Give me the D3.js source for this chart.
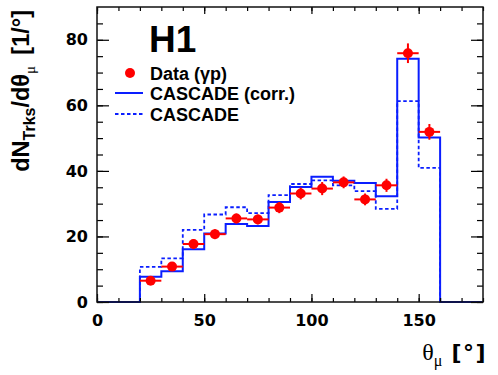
<!DOCTYPE html>
<html>
<head>
<meta charset="utf-8">
<script src="https://cdn.jsdelivr.net/npm/d3@7"></script>
<style>
    body { margin: 0; background: #fff; }
    svg { display: block; }
</style>
</head>
<body>
<svg id="chart" width="498" height="375"></svg>
<script>
// Bin lower edges (degrees), each bin is 10 wide
const binEdges = [20, 30, 40, 50, 60, 70, 80, 90, 100, 110, 120, 130, 140, 150];
const binWidth = 10;

// Data (gamma p) points with stat. errors
const dataValues = [6.5, 10.8, 17.7, 20.7, 25.5, 25.2, 28.8, 33.1, 34.6, 36.5, 31.3, 35.6, 75.9, 51.9];
const dataErrors = [1.2, 1.2, 1.5, 1.5, 1.5, 1.5, 1.7, 1.8, 2.0, 1.8, 1.8, 2.0, 3.0, 2.4];

// CASCADE predictions
const cascadeCorr = [7.7, 9.4, 16.1, 20.9, 23.8, 23.2, 30.5, 35.1, 38.2, 37.0, 36.3, 32.3, 74.2, 50.2];
const cascade = [10.7, 13.3, 22.0, 26.7, 28.9, 27.1, 32.6, 36.0, 37.1, 35.6, 33.8, 28.4, 61.3, 40.9];

// Axis ticks
const xMajorTicks = [0, 50, 100, 150];
const xMinorTicks = d3.range(0, 181, 10);
const yMajorTicks = [0, 20, 40, 60, 80];
const yMinorTicks = d3.range(0, 90, 5);

const legendLabels = ['Data (\u03b3p)', 'CASCADE (corr.)', 'CASCADE'];

/**
 * Visual configs.
 */
const margin = { top: 7, right: 15, bottom: 73, left: 97 },
    visWidth = 498, visHeight = 375,
    width = visWidth - margin.left - margin.right,
    height = visHeight - margin.top - margin.bottom,
    red = '#ff0000',
    blue = '#0a1eff',
    labelFont = '"DejaVu Sans", sans-serif',
    textFont = '"Liberation Sans", Arial, sans-serif';

const xScale = d3.scaleLinear().domain([0, 180]).range([0, width]),
    yScale = d3.scaleLinear().domain([0, 90]).range([height, 0]);

const svg = d3.select('#chart');
const g = svg.append('g').attr('transform', 'translate(' + margin.left + ',' + margin.top + ')');

/**
 * Histograms (step lines from 0 to 180, zero outside the filled bins).
 */
function histPoints(values) {
    const pts = [[0, 0]];
    binEdges.forEach((e, i) => pts.push([e, values[i]]));
    pts.push([binEdges[binEdges.length - 1] + binWidth, 0]);
    pts.push([180, 0]);
    return pts;
}

const stepLine = d3.line()
    .x(d => xScale(d[0]))
    .y(d => yScale(d[1]))
    .curve(d3.curveStepAfter);

g.append('path')
    .attr('d', stepLine(histPoints(cascade)))
    .attr('fill', 'none')
    .attr('stroke', blue)
    .attr('stroke-width', 1.8)
    .attr('stroke-dasharray', '3.5,2.5');

g.append('path')
    .attr('d', stepLine(histPoints(cascadeCorr)))
    .attr('fill', 'none')
    .attr('stroke', blue)
    .attr('stroke-width', 2);

/**
 * Data points with error bars.
 */
const points = g.append('g').selectAll('.point')
    .data(dataValues.map((v, i) => ({ x: binEdges[i] + binWidth / 2, y: v, err: dataErrors[i] })))
    .join('g')
    .attr('class', 'point');

points.append('line')
    .attr('x1', d => xScale(d.x - binWidth / 2))
    .attr('x2', d => xScale(d.x + binWidth / 2))
    .attr('y1', d => yScale(d.y))
    .attr('y2', d => yScale(d.y))
    .attr('stroke', red)
    .attr('stroke-width', 2);

points.append('line')
    .attr('x1', d => xScale(d.x))
    .attr('x2', d => xScale(d.x))
    .attr('y1', d => yScale(d.y - d.err))
    .attr('y2', d => yScale(d.y + d.err))
    .attr('stroke', red)
    .attr('stroke-width', 2);

points.append('circle')
    .attr('cx', d => xScale(d.x))
    .attr('cy', d => yScale(d.y))
    .attr('r', 5)
    .attr('fill', red);

/**
 * Axes: ticks inside the frame on all four sides.
 */
function styleAxis(sel) {
    sel.select('.domain').remove();
    sel.selectAll('line').attr('stroke', '#000').attr('stroke-width', 1.2);
    sel.selectAll('text')
        .attr('fill', '#000')
        .style('font-family', labelFont)
        .style('font-weight', 'bold')
        .style('font-size', '16px');
}

g.append('g').attr('transform', 'translate(0,' + height + ')')
    .call(d3.axisBottom(xScale).tickValues(xMinorTicks).tickSize(-4).tickFormat(''))
    .call(styleAxis);
g.append('g').attr('transform', 'translate(0,' + height + ')')
    .call(d3.axisBottom(xScale).tickValues(xMajorTicks).tickSize(-8).tickPadding(13).tickFormat(d3.format('d')))
    .call(styleAxis);
g.append('g')
    .call(d3.axisTop(xScale).tickValues(xMinorTicks).tickSize(-4).tickFormat(''))
    .call(styleAxis);
g.append('g')
    .call(d3.axisTop(xScale).tickValues(xMajorTicks).tickSize(-7).tickFormat(''))
    .call(styleAxis);

g.append('g')
    .call(d3.axisLeft(yScale).tickValues(yMinorTicks).tickSize(-6).tickFormat(''))
    .call(styleAxis);
g.append('g')
    .call(d3.axisLeft(yScale).tickValues(yMajorTicks).tickSize(-12).tickPadding(9).tickFormat(d3.format('d')))
    .call(styleAxis);
g.append('g').attr('transform', 'translate(' + width + ',0)')
    .call(d3.axisRight(yScale).tickValues(yMinorTicks).tickSize(-6).tickFormat(''))
    .call(styleAxis);
g.append('g').attr('transform', 'translate(' + width + ',0)')
    .call(d3.axisRight(yScale).tickValues(yMajorTicks).tickSize(-12).tickFormat(''))
    .call(styleAxis);

// Frame
g.append('rect')
    .attr('width', width)
    .attr('height', height)
    .attr('fill', 'none')
    .attr('stroke', '#111')
    .attr('stroke-width', 1.5);

/**
 * Titles.
 */
const yTitle = svg.append('text')
    .attr('transform', 'translate(29,10) rotate(-90)')
    .attr('text-anchor', 'end')
    .style('font-family', textFont)
    .style('font-weight', 'bold')
    .style('font-size', '23.5px');
yTitle.append('tspan').text('dN');
yTitle.append('tspan').attr('dy', 6).style('font-size', '16px').text('Trks');
yTitle.append('tspan').attr('dy', -6).text('/d\u03b8');
yTitle.append('tspan').attr('dy', 6).style('font-size', '15px').style('font-weight', 'normal')
    .style('font-family', '"Liberation Serif", serif').text('\u03bc');
yTitle.append('tspan').attr('dy', -6).text('\u2009 [1/\u00b0]');

const xTitle = svg.append('text')
    .attr('x', 487)
    .attr('y', 360)
    .attr('text-anchor', 'end')
    .style('font-size', '24px');
xTitle.append('tspan').style('font-family', '"Liberation Serif", serif').text('\u03b8');
xTitle.append('tspan').attr('dy', 6).style('font-family', '"Liberation Serif", serif')
    .style('font-size', '16px').text('\u03bc');
xTitle.append('tspan').attr('dy', -6).style('font-family', labelFont).style('font-weight', 'bold')
    .style('font-size', '22px').style('letter-spacing', '1.5px')
    .text(' [\u00b0]');

// Experiment label
svg.append('text')
    .attr('x', 149)
    .attr('y', 52)
    .style('font-family', textFont)
    .style('font-weight', 'bold')
    .style('font-size', '37px')
    .text('H1');

/**
 * Legend.
 */
const legend = svg.append('g').attr('transform', 'translate(115,0)');
const rowY = [73, 93, 114];

legend.append('circle').attr('cx', 15).attr('cy', rowY[0]).attr('r', 5).attr('fill', red);
legend.append('line').attr('x1', 0).attr('x2', 28).attr('y1', rowY[1]).attr('y2', rowY[1])
    .attr('stroke', blue).attr('stroke-width', 2);
legend.append('line').attr('x1', 0).attr('x2', 28).attr('y1', rowY[2]).attr('y2', rowY[2])
    .attr('stroke', blue).attr('stroke-width', 1.8).attr('stroke-dasharray', '3.5,2.5');

legend.selectAll('.label')
    .data(legendLabels)
    .join('text')
    .attr('class', 'label')
    .attr('x', 35)
    .attr('y', (d, i) => rowY[i] + 6.5)
    .style('font-family', textFont)
    .style('font-weight', 'bold')
    .style('font-size', '18px')
    .text(d => d);
</script>
</body>
</html>
